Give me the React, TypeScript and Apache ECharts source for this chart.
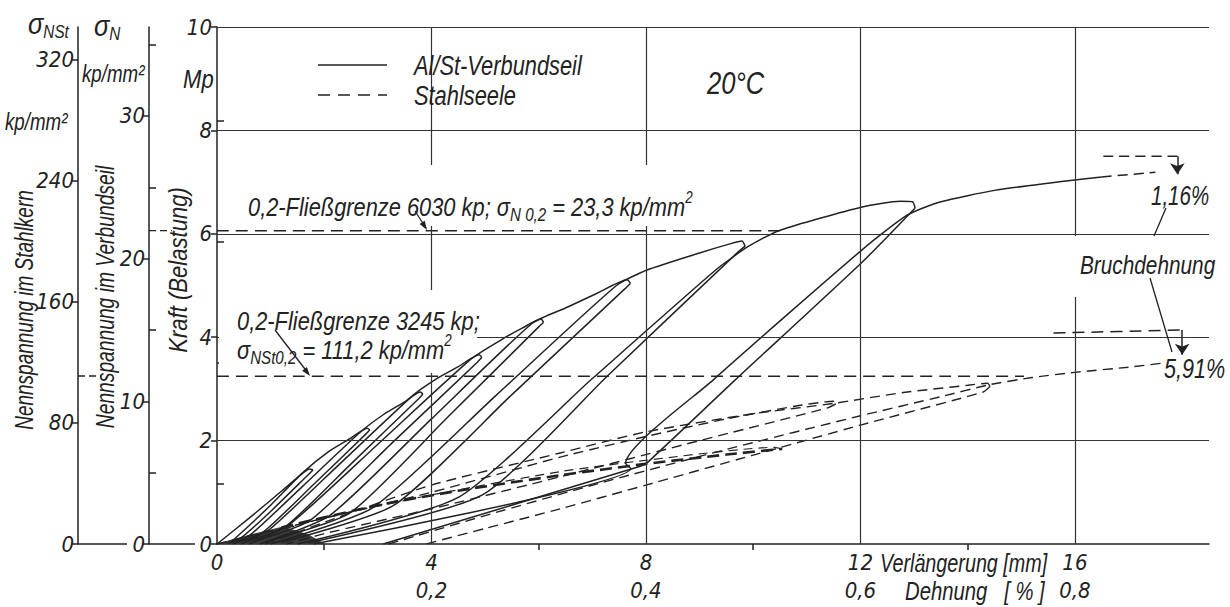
import React, { useEffect, useRef } from "react";
import * as echarts from "echarts";

// ---------------- axis values ----------------
const xLabelValues = [0, 4, 8, 12, 16];
const strainLabels = ["", "0,2", "0,4", "0,6", "0,8"];
const xMinorTicks = [2, 6, 10, 14];
const kraftTicks = [0, 2, 4, 6, 8, 10];
const gridX = [4, 8, 12, 16];
const gridY = [2, 4, 6, 8, 10];
const sigmaStLabels = [0, 80, 160, 240, 320];
const sigmaStMinor = [40, 120, 200, 280];
const sigmaNLabels = [0, 10, 20, 30];
const sigmaNMinor = [5, 15, 25, 35];

// ---------------- Al/St-Verbundseil (solid), [mm, Mp] ----------------
const alStLoad1 = [[0, 0], [0.6, 0.5], [1.2, 1.02], [1.6, 1.37], [1.73, 1.45], [1.79, 1.43]];
const alStUnload1 = [[1.79, 1.43], [1.72, 1.36], [1.0, 0.63], [0.45, 0.12], [0.25, 0.03]];
const alStLoad2 = [[0.2, 0], [0.35, 0.12], [1.0, 0.75], [1.6, 1.38], [2.1, 1.8], [2.5, 2.05], [2.8, 2.24], [2.85, 2.21]];
const alStUnload2 = [[2.85, 2.21], [2.78, 2.13], [1.8, 1.15], [0.85, 0.22], [0.4, 0.04]];
const alStLoad3 = [[0.3, 0], [0.65, 0.2], [1.6, 1.12], [2.68, 2.17], [3.1, 2.5], [3.5, 2.75], [3.79, 2.94], [3.84, 2.9]];
const alStUnload3 = [[3.84, 2.9], [3.77, 2.82], [2.5, 1.55], [1.27, 0.33], [0.55, 0.05]];
const alStLoad4 = [[0.45, 0], [1.0, 0.3], [2.3, 1.56], [3.66, 2.88], [4.1, 3.2], [4.5, 3.43], [4.89, 3.66], [4.94, 3.61]];
const alStUnload4 = [[4.94, 3.61], [4.86, 3.52], [3.3, 1.99], [1.74, 0.46], [0.7, 0.05]];
const alStLoad5 = [[0.6, 0], [1.4, 0.42], [3.0, 1.93], [4.74, 3.58], [5.3, 3.95], [5.7, 4.18], [6.04, 4.35], [6.09, 4.29]];
const alStUnload5 = [[6.09, 4.29], [6.0, 4.2], [4.3, 2.45], [2.48, 0.6], [0.9, 0.04]];
const alStLoad6 = [[0.8, 0], [2.1, 0.55], [4.0, 2.42], [5.88, 4.27], [6.53, 4.58], [7.09, 4.85], [7.65, 5.11], [7.71, 5.04]];
const alStUnload6 = [[7.71, 5.04], [7.6, 4.93], [5.5, 2.89], [3.3, 0.75], [1.2, 0.03]];
const alStLoad7 = [[1.0, 0], [2.9, 0.7], [5.2, 2.87], [7.45, 5.0], [8.02, 5.3], [9.0, 5.63], [9.55, 5.8], [9.79, 5.86], [9.85, 5.76]];
const alStUnload7 = [[9.85, 5.76], [9.72, 5.65], [7.3, 3.27], [4.95, 0.95], [1.7, 0.02]];
const alStLoad8 = [[1.5, 0], [4.5, 0.9], [7.0, 3.2], [9.3, 5.3], [9.9, 5.75], [10.5, 6.07], [12.03, 6.52], [12.74, 6.63], [12.97, 6.62], [13.02, 6.5]];
const alStUnload8 = [[13.02, 6.5], [12.03, 5.45], [9.66, 3.17], [8.02, 1.57], [7.88, 1.5], [3.1, 0]];
const alStLoad9 = [[1.8, 0], [7.72, 1.46], [7.62, 1.56], [9.25, 3.17], [12.03, 5.69], [12.87, 6.36], [13.5, 6.62], [14.5, 6.84], [15.5, 6.98], [16.0, 7.04], [16.5, 7.1]];
const alStTail = [[16.5, 7.1], [17.5, 7.19]];
const alStBreak = [[16.53, 7.5], [17.91, 7.5]];
const alStBreakArrow = [[17.91, 7.5], [17.91, 7.15]];
const darkWedge = [[0, 0], [0.6, 0.17], [1.23, 0.33], [1.7, 0.18], [2.0, 0]];

// ---------------- Stahlseele (dashed), [mm, Mp] ----------------
const stLoad1 = [[0, 0], [2, 0.5], [4, 1.0], [6.4, 1.68], [8, 2.08], [9.5, 2.42], [10.8, 2.67], [11.35, 2.75], [11.5, 2.76], [11.54, 2.71]];
const stUnload1 = [[11.54, 2.71], [11.38, 2.63], [9, 2.0], [6.4, 1.3], [4, 0.68], [2, 0.2], [1.3, 0]];
const stLoad2 = [[0.9, 0], [2, 0.42], [4, 1.14], [6.4, 1.76], [8, 2.17], [10, 2.52], [11.5, 2.72], [12.8, 2.93], [14.0, 3.07], [14.37, 3.11], [14.42, 3.05]];
const stUnload2 = [[14.42, 3.05], [14.29, 2.94], [12, 2.3], [10, 1.72], [8, 1.14], [6.4, 0.68], [5, 0.3], [3.9, 0]];
const stLoad3 = [[3.2, 0], [5, 0.55], [7.15, 1.18], [9.5, 1.83], [12, 2.48], [13.5, 2.85], [14.4, 3.08], [15.2, 3.22], [16, 3.32], [17.0, 3.42], [17.65, 3.5]];
const stHeavy = [[1.2, 0.32], [3, 0.75], [4.5, 1.03], [6.4, 1.33], [8, 1.55], [9.5, 1.73], [10.54, 1.84]];
const stHeavyReturn = [[10.54, 1.84], [10.4, 1.87], [8, 1.62], [6.4, 1.4], [4, 0.95], [2, 0.5], [1, 0.22]];
const stBreak = [[15.6, 4.08], [18.0, 4.14]];
const stBreakArrow = [[18.0, 4.14], [18.0, 3.66]];

// ---------------- 0,2-Fließgrenze lines ----------------
const yieldComposite = [[0, 6.06], [10.52, 6.06]];
const yieldSteel = [[0, 3.245], [15.05, 3.245]];

const FONT = "'Liberation Sans', 'DejaVu Sans', Arial, sans-serif";
const INK = "#222";

// pick a narrow font for axis tick labels if one is installed
function hasFont(name: string): boolean {
  try {
    const c = document.createElement("canvas").getContext("2d")!;
    const probe = "0123456789abcdefghijkl";
    c.font = "40px monospace";
    const a = c.measureText(probe).width;
    c.font = `40px '${name}', monospace`;
    const b = c.measureText(probe).width;
    return Math.abs(a - b) > 0.5;
  } catch (e) {
    return false;
  }
}
const NARROW = hasFont("Liberation Sans Narrow")
  ? "Liberation Sans Narrow"
  : hasFont("DejaVu Sans Condensed")
  ? "DejaVu Sans Condensed"
  : "";
const AXIS_FONT = NARROW ? `'${NARROW}', ${FONT}` : FONT;
const AXIS_SIZE = NARROW === "Liberation Sans Narrow" ? 26 : NARROW ? 22 : 21;

const solid = (data: number[][]) => ({
  type: "line", data, symbol: "none", showSymbol: false, silent: true, smooth: 0.2,
  lineStyle: { color: INK, width: 1.5 }, z: 3,
});
const dashed = (data: number[][], width = 1.4, dash = [10, 6]) => ({
  type: "line", data, symbol: "none", showSymbol: false, silent: true, smooth: 0.2,
  lineStyle: { color: INK, width, type: dash }, z: 3,
});
const arrow = (coords: number[][]) => ({
  type: "lines", coordinateSystem: "cartesian2d", xAxisIndex: 0, yAxisIndex: 0, silent: true,
  symbol: ["none", "arrow"], symbolSize: [7, 11], z: 4,
  lineStyle: { color: INK, width: 1.5, type: "solid", curveness: 0, opacity: 1 },
  data: [{ coords }],
});

const tokenStyle = (fs: number) => ({ fontSize: fs, fontFamily: FONT, fontStyle: "italic", fill: INK });

function txt(x: number, y: number, text: string, o: any = {}) {
  return {
    type: "text", x, y, z: 60, silent: true, scaleX: o.sx ?? 0.8, rotation: o.rot ?? 0,
    style: {
      text, fill: INK, fontSize: o.fs ?? 26, fontFamily: FONT, fontStyle: "italic",
      align: o.align ?? "left", verticalAlign: "middle", rich: o.rich,
    },
  };
}
const white = (x: number, y: number, w: number, h: number) => ({
  type: "rect", z: 50, silent: true, shape: { x, y, width: w, height: h }, style: { fill: "#fff" },
});
const seg = (x1: number, y1: number, x2: number, y2: number, dash?: number[], w = 1.3) => ({
  type: "line", z: 70, silent: true, shape: { x1, y1, x2, y2 },
  style: { stroke: INK, lineWidth: w, lineDash: dash },
});
const head = (tx: number, ty: number, fx: number, fy: number) => {
  const dx = tx - fx, dy = ty - fy, l = Math.hypot(dx, dy);
  const ux = dx / l, uy = dy / l, px = -uy, py = ux;
  const bx = tx - 9 * ux, by = ty - 9 * uy;
  return {
    type: "polygon", z: 70, silent: true,
    shape: { points: [[tx, ty], [bx + 3 * px, by + 3 * py], [bx - 3 * px, by - 3 * py]] },
    style: { fill: INK },
  };
};

const subRich = {
  m: { ...tokenStyle(26), verticalAlign: "middle", lineHeight: 34 },
  s: { ...tokenStyle(18), verticalAlign: "bottom", lineHeight: 34 },
  u: { ...tokenStyle(16), verticalAlign: "top", lineHeight: 34 },
  g: { ...tokenStyle(30), verticalAlign: "middle", lineHeight: 34 },
};

const graphics: any[] = [
  // white gaps in the grid behind labels
  white(240, 165, 460, 61),
  white(219, 290, 258, 50),
  white(219, 340, 221, 33),
  white(1070, 236, 138, 61),
  // left axis titles
  txt(28, 24, "{g|σ}{s|NSt}", { rich: subRich, sx: 0.85 }),
  txt(94, 26, "{g|σ}{s|N}", { rich: subRich, sx: 0.85 }),
  txt(82, 74, "kp/mm²", { fs: 24, sx: 0.78 }),
  txt(5, 122, "kp/mm²", { fs: 24, sx: 0.78 }),
  txt(183, 79, "Mp", { fs: 26, sx: 0.85 }),
  txt(25, 310, "Nennspannung im Stahlkern", { rot: Math.PI / 2, align: "center", sx: 0.76, fs: 25 }),
  txt(106, 297, "Nennspannung im Verbundseil", { rot: Math.PI / 2, align: "center", sx: 0.77, fs: 25 }),
  txt(178, 270, "Kraft (Belastung)", { rot: Math.PI / 2, align: "center", sx: 0.85 }),
  // stubs at the bottom of stress axes
  seg(78, 544, 127, 544, undefined, 1.5),
  seg(149, 544, 195, 544, undefined, 1.5),
  seg(149, 230.7, 172, 230.7, [7, 4]),
  seg(78, 376, 101, 376, [7, 4]),
  // legend
  seg(318, 65, 387, 65, undefined, 1.5),
  seg(318, 95, 387, 95, [12, 8], 1.5),
  txt(414, 65, "Al/St-Verbundseil", { fs: 28, sx: 0.78 }),
  txt(414, 95, "Stahlseele", { fs: 28, sx: 0.78 }),
  txt(707, 83, "20°C", { fs: 32, sx: 0.8 }),
  // yield annotations
  txt(248, 207, "{m|0,2-Fließgrenze 6030 kp; σ}{s|N 0,2}{m| = 23,3 kp/mm}{u|2}", { rich: subRich, sx: 0.84 }),
  seg(415, 211, 426, 228),
  head(427, 230, 415, 211),
  txt(237, 321, "0,2-Fließgrenze 3245 kp;", { fs: 26, sx: 0.84 }),
  txt(237, 350, "{m|σ}{s|NSt0,2}{m| = 111,2 kp/mm}{u|2}", { rich: subRich, sx: 0.84 }),
  seg(275, 330, 308, 373),
  head(310, 376, 275, 330),
  // breaking strain notes
  txt(1151, 195, "1,16%", { fs: 27, sx: 0.76 }),
  seg(1166, 208, 1154, 236),
  txt(1080, 265, "Bruchdehnung", { fs: 26, sx: 0.8 }),
  seg(1150, 278, 1172, 352),
  txt(1164, 369, "5,91%", { fs: 27, sx: 0.8 }),
  // x axis names
  txt(880, 563, "Verlängerung [mm]", { fs: 26, sx: 0.76 }),
  txt(905, 591, "Dehnung   [ % ]", { fs: 26, sx: 0.78 }),
];

const axisFont = { fontSize: AXIS_SIZE, fontStyle: "italic", fontFamily: AXIS_FONT, color: INK };
const axisLineStyle = { color: INK, width: 1.5 };

const option: any = {
  animation: false,
  backgroundColor: "#fff",
  grid: { left: 217, top: 27, width: 992, height: 517, containLabel: false },
  xAxis: [{
    type: "value", min: 0, max: 18.5, interval: 2,
    axisLine: { show: true, onZero: false, lineStyle: axisLineStyle },
    axisTick: { show: true, customValues: xMinorTicks, length: 6, lineStyle: axisLineStyle },
    splitLine: { show: false },
    axisLabel: {
      customValues: xLabelValues, margin: 4, ...axisFont,
      formatter: (v: number) => {
        const i = xLabelValues.indexOf(v);
        if (i < 0) return "";
        return i === 0 ? `{a|${v}}` : `{a|${v}}\n{a|${strainLabels[i]}}`;
      },
      rich: { a: { ...axisFont, lineHeight: 28 } },
    },
  }],
  yAxis: [
    {
      type: "value", min: 0, max: 10, interval: 2,
      axisLine: { show: true, onZero: false, lineStyle: axisLineStyle },
      axisTick: { show: true, customValues: kraftTicks, length: 6, lineStyle: axisLineStyle },
      axisLabel: { customValues: kraftTicks, margin: 5, ...axisFont },
      splitLine: { show: false },
    },
    {
      type: "value", position: "left", offset: 139, min: 0, max: 341.8, interval: 40,
      axisLine: { show: true, onZero: false, lineStyle: axisLineStyle },
      axisTick: { show: true, customValues: sigmaStLabels, length: 6, lineStyle: axisLineStyle },
      axisLabel: { customValues: sigmaStLabels, margin: 4, ...axisFont },
      splitLine: { show: false },
    },
    {
      type: "value", position: "left", offset: 139, min: 0, max: 341.8, interval: 40,
      axisLine: { show: false },
      axisTick: { show: true, inside: true, customValues: sigmaStMinor, length: 7, lineStyle: axisLineStyle },
      axisLabel: { show: false },
      splitLine: { show: false },
    },
    {
      type: "value", position: "left", offset: 68, min: 0, max: 36.23, interval: 5,
      axisLine: { show: true, onZero: false, lineStyle: axisLineStyle },
      axisTick: { show: true, customValues: sigmaNLabels, length: 6, lineStyle: axisLineStyle },
      axisLabel: { customValues: sigmaNLabels, margin: 4, ...axisFont },
      splitLine: { show: false },
    },
    {
      type: "value", position: "left", offset: 68, min: 0, max: 36.23, interval: 5,
      axisLine: { show: false },
      axisTick: { show: true, inside: true, customValues: sigmaNMinor, length: 7, lineStyle: axisLineStyle },
      axisLabel: { show: false },
      splitLine: { show: false },
    },
  ],
  series: [
    {
      ...dashed(yieldComposite, 1.4, [12, 7]),
      markLine: {
        silent: true, symbol: ["none", "none"], label: { show: false },
        lineStyle: { color: "#333", width: 1.2, type: "solid" },
        data: [...gridX.map((v) => ({ xAxis: v })), ...gridY.map((v) => ({ yAxis: v }))],
      },
    },
    dashed(yieldSteel, 1.4, [12, 7]),
    {
      type: "line", data: darkWedge, symbol: "none", silent: true,
      lineStyle: { color: "#333", width: 0.8 }, areaStyle: { color: "#3a3a3a", opacity: 1 }, z: 2,
    },
    solid(alStLoad1), solid(alStUnload1), solid(alStLoad2), solid(alStUnload2),
    solid(alStLoad3), solid(alStUnload3), solid(alStLoad4), solid(alStUnload4),
    solid(alStLoad5), solid(alStUnload5), solid(alStLoad6), solid(alStUnload6),
    solid(alStLoad7), solid(alStUnload7), solid(alStLoad8), solid(alStUnload8),
    solid(alStLoad9),
    dashed(alStTail, 1.5, [10, 6]),
    dashed(alStBreak, 1.5, [10, 6]),
    arrow(alStBreakArrow),
    dashed(stLoad1), dashed(stUnload1), dashed(stLoad2), dashed(stUnload2), dashed(stLoad3),
    dashed(stHeavy, 2.6, [12, 6]), dashed(stHeavyReturn, 1.2, [9, 6]),
    dashed(stBreak, 1.5, [12, 7]),
    arrow(stBreakArrow),
  ],
  graphic: graphics,
};

export default function App() {
  const ref = useRef<HTMLDivElement>(null);
  useEffect(() => {
    document.body.style.margin = "0";
    const chart = echarts.init(ref.current!, null, { renderer: "svg" });
    chart.setOption(option);
    return () => chart.dispose();
  }, []);
  return <div ref={ref} style={{ width: 1230, height: 607, background: "#fff" }} />;
}
